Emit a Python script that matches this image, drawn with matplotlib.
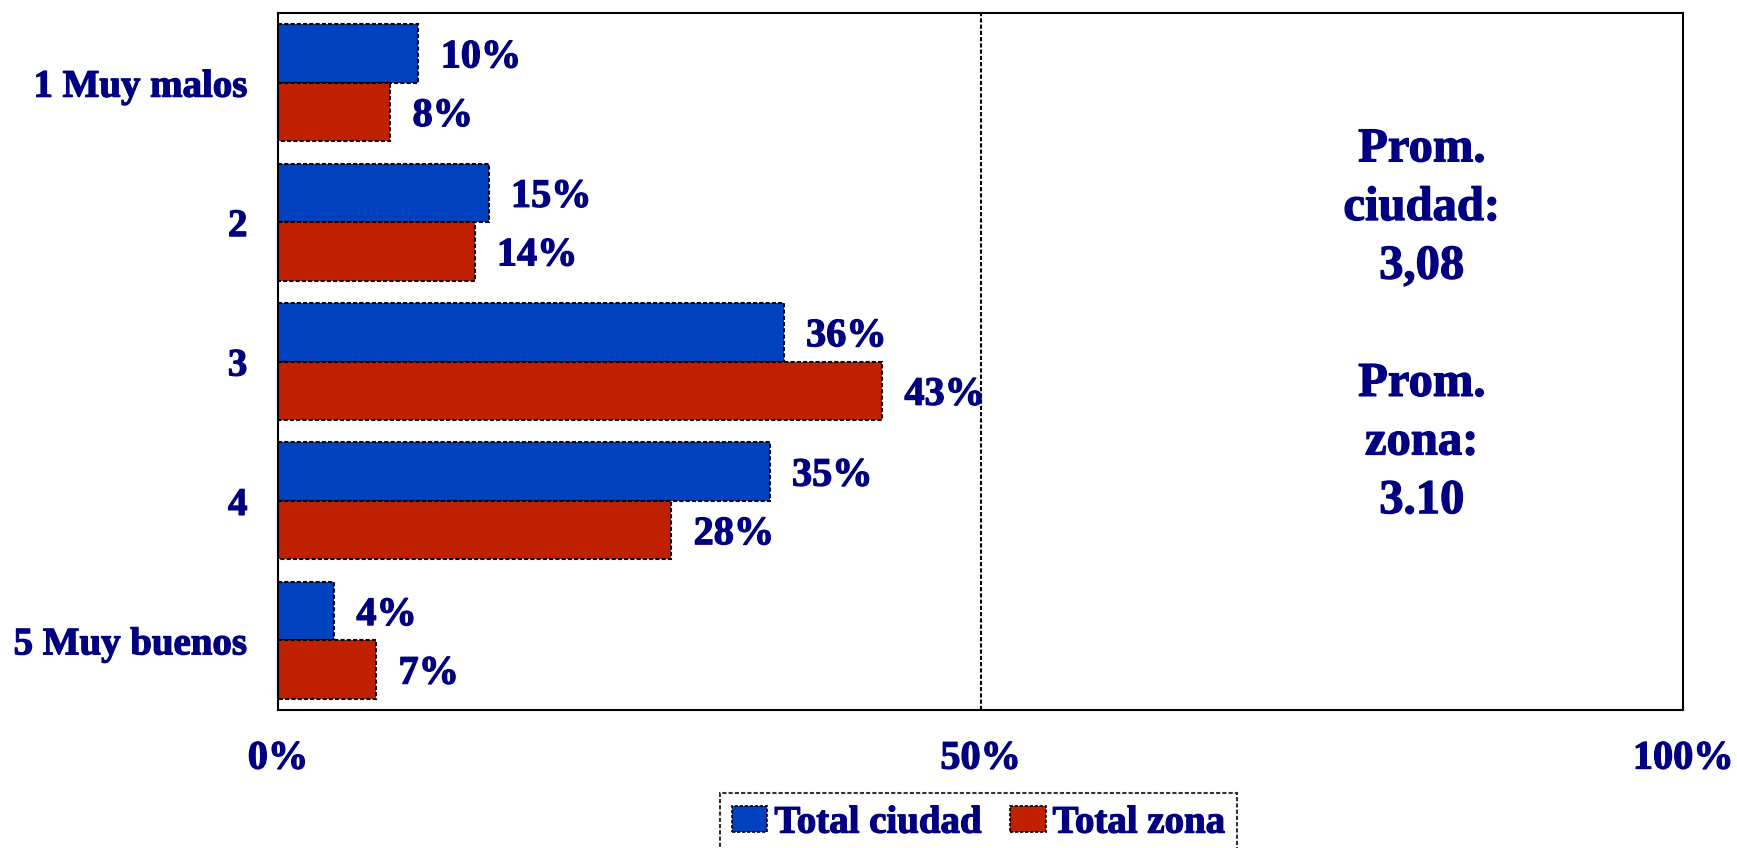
import numpy as np
import matplotlib.pyplot as plt
import matplotlib.patheffects as pe
from matplotlib.patches import Patch

categories = ['1 Muy malos', '2', '3', '4', '5 Muy buenos']
ciudad = [10, 15, 36, 35, 4]
zona = [8, 14, 43, 28, 7]
xticks = [0, 50, 100]
xlabels = ['0%', '50%', '100%']
note = 'Prom.\nciudad:\n3,08\n\nProm.\nzona:\n3.10'

blue = '#0041C0'
red = '#BE2000'
navy = '#000080'
dash = (0, (2, 1))
heavy = [pe.withStroke(linewidth=0.9, foreground=navy)]

plt.rcParams['font.family'] = ['Liberation Serif', 'DejaVu Serif']
plt.rcParams['font.weight'] = 'bold'

fig = plt.figure(figsize=(17.37, 8.48), dpi=100)
ax = fig.add_axes([0.160, 0.1627, 0.809, 0.822])

y = np.arange(len(categories))
h = 0.42
bc = ax.barh(y - h / 2, ciudad, height=h, color=blue, edgecolor='black', linewidth=1.5, linestyle=dash)
bz = ax.barh(y + h / 2, zona, height=h, color=red, edgecolor='black', linewidth=1.5, linestyle=dash)

for bars, vals in ((bc, ciudad), (bz, zona)):
    for b, v in zip(bars, vals):
        ax.annotate(f'{v}%', (b.get_width(), b.get_y() + b.get_height() / 2),
                    xytext=(16, 0), textcoords='offset points', ha='left', va='center_baseline',
                    fontsize=29, color=navy, fontweight='bold', path_effects=heavy)

ax.set_xlim(0, 100)
ax.set_ylim(4.5, -0.5)
ax.set_yticks(y)
ax.set_yticklabels(categories, fontsize=28, color=navy, fontweight='bold')
ax.set_xticks(xticks)
ax.set_xticklabels(xlabels, fontsize=29, color=navy, fontweight='bold')
for t in ax.get_xticklabels() + ax.get_yticklabels():
    t.set_path_effects(heavy)
ax.tick_params(axis='both', length=0)
ax.tick_params(axis='y', pad=22)
ax.tick_params(axis='x', pad=22)
ax.axvline(50, color='black', linewidth=1.5, linestyle=dash)
for s in ax.spines.values():
    s.set_linewidth(1.5)
    s.set_linestyle(dash)

ax.text(81.4, 1.74, note, ha='center', va='center', fontsize=35, color=navy,
        fontweight='bold', linespacing=1.43, path_effects=heavy)

handles = [Patch(facecolor=blue, edgecolor='black', linestyle=dash, linewidth=1.2, label='Total ciudad'),
           Patch(facecolor=red, edgecolor='black', linestyle=dash, linewidth=1.2, label='Total zona')]
leg = fig.legend(handles=handles, loc='upper left', bbox_to_anchor=(0.4145, 0.0649), ncol=2,
                 fontsize=28, frameon=True, fancybox=False, handlelength=0.92, handleheight=0.64,
                 handletextpad=0.18, columnspacing=0.72, borderpad=0.3, borderaxespad=0)
for t in leg.get_texts():
    t.set_color(navy)
    t.set_path_effects(heavy)
fr = leg.get_frame()
fr.set_edgecolor('black')
fr.set_linewidth(1.5)
fr.set_linestyle(dash)

fig.savefig('out.png', dpi=100)
